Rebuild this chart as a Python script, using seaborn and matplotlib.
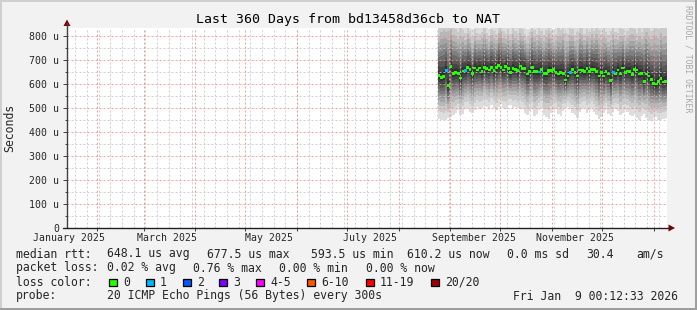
import numpy as np
import pandas as pd
import matplotlib
matplotlib.use("Agg")
import matplotlib.pyplot as plt
from matplotlib.patches import Rectangle, Polygon
from matplotlib.lines import Line2D
import seaborn as sns

# ---------------- data ----------------
window_start = "2025-01-14 00:12:33"
window_end = "2026-01-09 00:12:33"
first_sample = "2025-08-25 06:00"
last_sample = "2026-01-08 06:00"

median_us = [636, 628, 631, 656, 593.5, 672, 644, 647, 644, 625, 654, 656, 668, 662, 644, 667,
             658, 667, 651, 669, 664, 658, 669, 656, 668, 677.5, 669, 658, 672, 664, 647, 665,
             661, 656, 675, 665, 665, 642, 651, 669, 651, 651, 650, 661, 644, 644, 656, 656,
             661, 647, 642, 647, 644, 617, 633, 649, 661, 649, 633, 658, 656, 651, 665, 651, 661,
             661, 651, 633, 647, 633, 651, 642, 614, 647, 642, 658, 642, 667, 647, 654, 651,
             640, 661, 658, 642, 644, 612, 642, 633, 619, 603, 600, 610, 624, 608, 610.2]

loss_pings = [0, 0, 0, 1, 0, 0, 0, 0, 0, 0, 0, 1, 0, 0, 0, 0,
              0, 0, 0, 0, 0, 0, 0, 0, 0, 0, 0, 0, 0, 0, 0, 0,
              0, 0, 0, 0, 0, 0, 0, 0, 0, 0, 1, 0, 0, 0, 0, 0,
              0, 0, 0, 0, 0, 0, 0, 1, 0, 0, 0, 0, 0, 0, 0, 0, 0,
              0, 0, 0, 0, 0, 0, 0, 0, 1, 0, 0, 0, 0, 0, 0, 0,
              0, 0, 0, 0, 0, 0, 0, 0, 0, 0, 0, 0, 0, 0, 0]

min_us = [455, 450, 448, 452, 458, 462, 470,
          480, 490, 470, 475, 495, 500, 485, 478, 490, 505, 495,
          500, 510, 505, 495, 512, 500, 490, 505, 515, 500, 495, 508, 512, 500,
          505, 498, 502, 495, 480, 470, 488, 495, 465, 475, 490, 500, 470, 462, 455, 478,
          490, 495, 475, 468, 488, 500, 505, 495, 480, 470, 460, 485, 495, 500, 478, 490, 498,
          485, 470, 455, 462, 480, 490, 475, 468, 485, 495, 488, 470, 478, 490, 482, 470,
          465, 475, 458, 450, 468, 475, 460, 452, 445, 458, 462, 450, 448, 455, 460]

max_us = [880, 905, 915, 895, 925, 905, 880, 870, 855, 880, 865, 845, 875, 855, 830, 865,
          845, 840, 855, 875, 845, 830, 865, 855, 840, 875, 885, 855, 840, 865, 845, 875,
          855, 845, 875, 865, 840, 830, 855, 885, 865, 845, 875, 855, 840, 865, 885, 855,
          830, 845, 875, 865, 885, 855, 845, 875, 865, 840, 855, 885, 875, 845, 865, 855, 875,
          855, 885, 865, 845, 875, 855, 840, 865, 885, 855, 845, 875, 865, 840, 855, 875,
          885, 865, 845, 875, 855, 885, 900, 875, 865, 890, 885, 875, 900, 885, 890]

y_ticks_us = [0, 100, 200, 300, 400, 500, 600, 700, 800]
y_tick_labels = ["0", "100 u", "200 u", "300 u", "400 u", "500 u", "600 u", "700 u", "800 u"]
x_label_dates = ["2025-01-15", "2025-03-15", "2025-05-15", "2025-07-15", "2025-09-15", "2025-11-15"]
x_labels = ["January 2025", "March 2025", "May 2025", "July 2025", "September 2025", "November 2025"]

title = "Last 360 Days from bd13458d36cb to NAT"
rtt_stats = ["648.1 us avg", "677.5 us max", "593.5 us min", "610.2 us now", "0.0 ms sd", "30.4", "am/s"]
loss_stats = ["0.02 % avg", "0.76 % max", "0.00 % min", "0.00 % now"]
loss_labels = ["0", "1", "2", "3", "4-5", "6-10", "11-19", "20/20"]
loss_colors = ["#26ff00", "#00b8ff", "#0059ff", "#7e00ff", "#ff00ff", "#ff5500", "#ff0000", "#a10000"]
probe_text = "20 ICMP Echo Pings (56 Bytes) every 300s"
stamp_text = "Fri Jan  9 00:12:33 2026"

# ---------------- style ----------------
sns.set_style("white")
plt.rcParams["font.family"] = ["DejaVu Sans Mono", "DejaVu Sans"]

W, H = 697, 310
fig = plt.figure(figsize=(W / 100, H / 100), dpi=100, facecolor="#f2f2f2")


def fx(x):
    return x / W


def fy(y):
    return 1 - y / H


ax = fig.add_axes([fx(67), fy(228), 600 / W, 200 / H])
ax.set_facecolor("white")
for s in ax.spines.values():
    s.set_visible(False)

t0 = pd.Timestamp(window_start)
t1 = pd.Timestamp(window_end)
times = pd.date_range(first_sample, last_sample, periods=len(median_us))
step_days = (times[1] - times[0]).total_seconds() / 86400.0

df = pd.DataFrame({
    "time": times,
    "median": np.array(median_us, dtype=float),
    "low": np.array(min_us, dtype=float),
    "high": np.array(max_us, dtype=float),
    "loss": [loss_labels[min(v, 1)] for v in loss_pings],
})

# smoke: ten nested gray bands, darker towards the median
band_fraction = [1.0, 0.82, 0.68, 0.57, 0.48, 0.40, 0.32, 0.24, 0.16, 0.08]
med = df["median"].values
lo = df["low"].values
hi = df["high"].values
for i, f in enumerate(band_fraction, start=1):
    g = int(190 / 10 * (10 - i)) + 50
    col = "#%02x%02x%02x" % (g, g, g)
    bottom = med - (med - lo) * f
    top = med + (hi - med) * f
    ax.bar(times, top - bottom, bottom=bottom, width=step_days, color=col,
           linewidth=0, align="center", zorder=1)

# grid (drawn above smoke, like rrdtool)
minor_kw = dict(color="#c4c4c4", lw=0.72, linestyle=(0, (2, 2)), zorder=2, alpha=0.8)
major_kw = dict(color="#ee8c8c", lw=0.72, linestyle=(0, (2, 2)), zorder=2.5, alpha=0.8)
for v in np.arange(50, 833, 100):
    ax.axhline(v, **minor_kw)
for d in pd.date_range(t0.normalize(), t1, freq="W-SUN"):
    ax.axvline(d, **minor_kw)
for v in y_ticks_us[1:]:
    ax.axhline(v, **major_kw)
month_starts = pd.date_range("2025-02-01", t1, freq="MS")
for d in month_starts:
    ax.axvline(d, **major_kw)

# median points coloured by loss
sns.scatterplot(data=df, x="time", y="median", hue="loss",
                palette=dict(zip(loss_labels, loss_colors)), marker="s", s=4,
                linewidth=0, legend=False, ax=ax, zorder=4)

ax.set_xlim(t0, t1)
ax.set_ylim(0, 833.33)
ax.set_xlabel("")
ax.set_ylabel("")
ax.set_yticks(y_ticks_us)
ax.set_yticklabels(y_tick_labels)
ax.set_yticks(np.arange(50, 833, 100), minor=True)
ax.set_xticks(pd.to_datetime(x_label_dates))
ax.set_xticklabels(x_labels)
ax.set_xticks(month_starts, minor=True)
ax.tick_params(axis="y", which="major", length=2.9, width=0.7, color="#404040", pad=2.9,
               labelsize=7.1, left=True)
ax.tick_params(axis="y", which="minor", length=1.5, width=0.7, color="#404040", left=True)
ax.tick_params(axis="x", which="major", length=0, pad=3.8, labelsize=7.1, bottom=True)
ax.tick_params(axis="x", which="minor", length=2.2, width=0.7, color="#404040", bottom=True)

# axes lines and arrows
fig.add_artist(Line2D([fx(67), fx(67)], [fy(228), fy(23)], color="#404040", lw=1.0))
fig.add_artist(Line2D([fx(63), fx(670)], [fy(228), fy(228)], color="#202020", lw=1.0))
fig.add_artist(Polygon([[fx(63.5), fy(26)], [fx(70.5), fy(26)], [fx(67), fy(19.5)]],
                       closed=True, color="#800000", lw=0))
fig.add_artist(Polygon([[fx(668.5), fy(224.5)], [fx(668.5), fy(231.5)], [fx(675), fy(228)]],
                       closed=True, color="#800000", lw=0))

# titles
fig.text(fx(348.5), fy(19), title, ha="center", va="center", fontsize=9.5, color="black")
fig.text(fx(10), fy(128), "Seconds", rotation=90, ha="center", va="center", fontsize=8.3)
fig.text(fx(688), fy(5), "RRDTOOL / TOBI OETIKER", rotation=270, ha="center", va="top",
         fontsize=5.9, color="#a8a8a8")

# legend block
fs = 8.3
rows = [254, 268, 282, 296]
fig.text(fx(16), fy(rows[0]), "median rtt:", ha="left", va="center", fontsize=fs)
for x, t in zip([107, 207, 311, 407, 507, 586, 636], rtt_stats):
    fig.text(fx(x), fy(rows[0]), t, ha="left", va="center", fontsize=fs)
fig.text(fx(16), fy(rows[1]), "packet loss:", ha="left", va="center", fontsize=fs)
for x, t in zip([107, 193, 279, 366], loss_stats):
    fig.text(fx(x), fy(rows[1]), t, ha="left", va="center", fontsize=fs)
fig.text(fx(16), fy(rows[2]), "loss color:", ha="left", va="center", fontsize=fs)
box_x = [109, 146, 183, 219, 256, 307, 366, 431]
for bx, lab, col in zip(box_x, loss_labels, loss_colors):
    fig.add_artist(Rectangle((fx(bx), fy(286)), 7.5 / W, 7.5 / H, facecolor=col,
                             edgecolor="black", lw=0.9))
    fig.text(fx(bx + 14), fy(rows[2]), lab, ha="left", va="center", fontsize=fs)
fig.text(fx(16), fy(rows[3]), "probe:", ha="left", va="center", fontsize=fs)
fig.text(fx(107), fy(rows[3]), probe_text, ha="left", va="center", fontsize=fs)
fig.text(fx(513), fy(rows[3]), stamp_text, ha="left", va="center", fontsize=fs)

# image shading border
fig.add_artist(Rectangle((0, fy(2)), 1, 2 / H, color="#cfcfcf", lw=0))
fig.add_artist(Rectangle((0, 0), 2 / W, 1, color="#cfcfcf", lw=0))
fig.add_artist(Rectangle((0, 0), 1, 2 / H, color="#9e9e9e", lw=0))
fig.add_artist(Rectangle((fx(695), 0), 2 / W, 1, color="#9e9e9e", lw=0))

fig.savefig("out.png", dpi=100, facecolor=fig.get_facecolor())
